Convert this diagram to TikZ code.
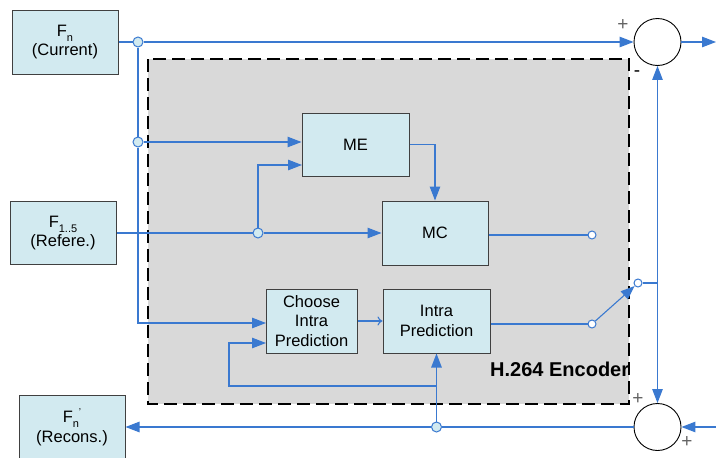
\documentclass[tikz,border=0pt]{standalone}
\usepackage{fontspec}
\setmainfont{Liberation Sans}
\usetikzlibrary{arrows.meta}

\definecolor{wire}{RGB}{58,121,208}
\definecolor{boxfill}{RGB}{210,234,240}
\definecolor{boxline}{RGB}{64,64,64}
\definecolor{encfill}{RGB}{217,217,217}
\definecolor{signgray}{RGB}{100,100,100}

% small lowered / raised text for frame indices
\newcommand\lowsub[1]{\raisebox{-0.3em}{\fontsize{11}{11}\selectfont #1}}
\newcommand\highsup[1]{\raisebox{0.45em}{\fontsize{10}{10}\selectfont #1}}

\begin{document}
\begin{tikzpicture}[x=1pt,y=-1pt,
  block/.style={draw=boxline, fill=boxfill, line width=1pt, align=center,
    inner sep=0pt, font=\fontsize{16.5}{19.5}\selectfont},
  sumc/.style={circle, draw=black, line width=0.9pt, fill=white,
    minimum size=47pt, inner sep=0pt},
  jn/.style={circle, draw=wire, fill=boxfill, line width=1pt,
    minimum size=10pt, inner sep=0pt},
  sw/.style={circle, draw=wire, fill=white, line width=1pt,
    minimum size=8pt, inner sep=0pt},
  wireline/.style={draw=wire, line width=1.1pt},
  tip/.style={wireline, -{Triangle[length=14pt,width=10.5pt]}},
  opentip/.style={wireline, -{To[length=5pt,width=9pt]}},
  encline/.style={draw=black, line width=2.6pt, dash pattern=on 13pt off 6pt},
  sign/.style={text=signgray, font=\fontsize{19}{19}\selectfont, inner sep=0pt}
]
\useasboundingbox (0,0) rectangle (716,458);
\fill[white] (0,0) rectangle (716,458);

% encoder area
\fill[encfill] (148,59) rectangle (629,404);
\begin{scope}
  \clip (148,59) rectangle (627,404);
  \node[anchor=base west, inner sep=0pt,
        font=\bfseries\fontsize{20}{22}\selectfont] (enc) at (490,376) {H.264 Encoder};
\end{scope}
\draw[encline] (148,59) rectangle (629,404);

% blocks
\node[block, minimum width=106pt, minimum height=64pt] (Fn)  at (65,42)
  {F\lowsub{n}\\(Current)};
\node[block, minimum width=106pt, minimum height=63pt] (F15) at (63,233)
  {F\lowsub{1..5}\\(Refere.)};
\node[block, minimum width=106pt, minimum height=64pt] (Fnr) at (72,427)
  {F\lowsub{n}\highsup{'}\\(Recons.)};
\node[block, minimum width=107pt, minimum height=63pt] (ME)  at (355.5,144.5) {ME};
\node[block, minimum width=106pt, minimum height=64pt] (MC)  at (435,233) {MC};
\node[block, minimum width=91pt,  minimum height=64pt] (Choose) at (311.5,321)
  {Choose\\Intra\\Prediction};
\node[block, minimum width=107pt, minimum height=64pt] (Intra) at (436.5,321)
  {Intra\\Prediction};

% adders
\node[sumc] (sumT) at (657.5,42) {};
\node[sumc] (sumB) at (657.5,427) {};

% junctions and switch contacts
\node[jn] (jA) at (138,42) {};
\node[jn] (jB) at (138,142) {};
\node[jn] (jC) at (258,233) {};
\node[jn] (jD) at (436.5,427) {};
\node[sw] (sw1) at (592,235) {};
\node[sw] (sw2) at (592,324) {};
\node[sw] (sw3) at (638,283) {};

% helper points
\coordinate (chIn1) at (266,323);
\coordinate (chIn2) at (266,343);
\coordinate (meIn2) at (302,165);
\coordinate (tap)   at (657.5,283);
\coordinate (fbA)   at (436.5,386);
\coordinate (fbB)   at (229,386);
\coordinate (rout)  at (716,42);
\coordinate (rin)   at (716,427);

% current frame path
\draw[wireline] (Fn.east) -- (jA);
\draw[tip] (jA) -- (sumT.west);
\draw[wireline] (jA) -- (jB);
\draw[tip] (jB) -- (ME.west |- jB);
\draw[tip] (jB) |- (chIn1);

% reference frames
\draw[wireline] (F15.east) -- (jC);
\draw[tip] (jC) -- (MC.west);
\draw[tip] (jC) |- (meIn2);

% inter path
\draw[tip] (ME.east) -| (MC.north);
\draw[wireline] (MC.east |- sw1) -- (sw1);

% intra path
\draw[opentip] (Choose.east) -- (Intra.west);
\draw[wireline] (Intra.east |- sw2) -- (sw2);
\draw[tip] (sw2) -- (sw3);
\draw[wireline] (sw3) -- (tap);

% adders
\draw[tip] (tap) -- (sumT.south);
\draw[tip] (tap) -- (sumB.north);
\draw[tip] (sumT.east) -- (rout);
\draw[tip] (rin) -- (sumB.east);

% reconstruction and feedback
\draw[wireline] (sumB.west) -- (jD);
\draw[tip] (jD) -- (Fnr.east);
\draw[tip] (jD) -- (Intra.south);
\draw[tip] (fbA) -- (fbB) |- (chIn2);

% adder signs
\node[sign] (pT) at (623,25) {+};
\node[sign, text=black] (mT) at (637,74) {-};
\node[sign] (pB1) at (638,399) {+};
\node[sign] (pB2) at (687,442) {+};
\end{tikzpicture}
\end{document}
